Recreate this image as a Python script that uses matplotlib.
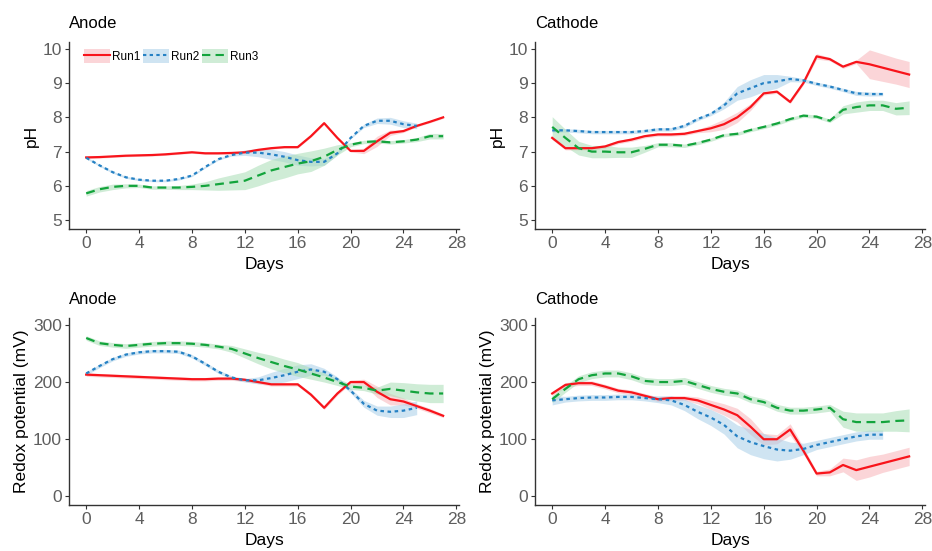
import numpy as np
import matplotlib
matplotlib.use('Agg')
import matplotlib.pyplot as plt
from matplotlib.patches import Patch
from matplotlib.lines import Line2D

plt.rcParams['font.family'] = ['Liberation Sans', 'DejaVu Sans']

days = list(range(28))
days_run2 = list(range(26))

# pH, anode
ph_an_run1 = [6.83, 6.84, 6.86, 6.88, 6.89, 6.90, 6.92, 6.95, 6.98, 6.95, 6.95, 6.96, 6.98, 7.05,
              7.10, 7.13, 7.13, 7.45, 7.83, 7.40, 7.02, 7.02, 7.30, 7.55, 7.60, 7.75, 7.87, 8.00]
ph_an_run1_se = [0.03] * 21 + [0.08, 0.15, 0.08, 0.04, 0.03, 0.03, 0.03]
ph_an_run2 = [6.82, 6.60, 6.40, 6.25, 6.18, 6.15, 6.15, 6.20, 6.30, 6.55, 6.78, 6.90, 6.97,
              6.97, 6.92, 6.85, 6.75, 6.70, 6.70, 6.95, 7.40, 7.75, 7.90, 7.90, 7.80, 7.75]
ph_an_run2_se = [0.03] * 12 + [0.08, 0.12, 0.15, 0.15, 0.15, 0.12, 0.10, 0.05, 0.03, 0.05,
                               0.08, 0.10, 0.10, 0.08]
ph_an_run3 = [5.78, 5.90, 5.97, 6.00, 6.00, 5.95, 5.95, 5.95, 5.97, 6.00, 6.05, 6.10, 6.15, 6.30,
              6.45, 6.55, 6.65, 6.72, 6.85, 7.05, 7.20, 7.28, 7.30, 7.27, 7.30, 7.35, 7.45, 7.45]
ph_an_run3_se = [0.08, 0.08, 0.08, 0.06, 0.05, 0.05, 0.05, 0.06, 0.08, 0.12, 0.18, 0.22, 0.26, 0.30,
                 0.32, 0.32, 0.30, 0.30, 0.25, 0.15, 0.06, 0.05, 0.05, 0.05, 0.05, 0.06, 0.08, 0.08]

# pH, cathode
ph_ca_run1 = [7.40, 7.10, 7.10, 7.10, 7.15, 7.28, 7.35, 7.45, 7.50, 7.50, 7.52, 7.60, 7.68, 7.80,
              8.00, 8.30, 8.70, 8.75, 8.45, 9.00, 9.78, 9.70, 9.48, 9.62, 9.55, 9.45, 9.35, 9.25]
ph_ca_run1_se = [0.05] * 12 + [0.10, 0.15, 0.15, 0.10, 0.05, 0.05, 0.05, 0.05, 0.08, 0.05,
                               0.05, 0.05, 0.42, 0.40, 0.38, 0.38]
ph_ca_run2 = [7.62, 7.62, 7.60, 7.57, 7.57, 7.57, 7.57, 7.60, 7.65, 7.65, 7.75, 7.95, 8.10,
              8.35, 8.70, 8.85, 9.00, 9.05, 9.12, 9.08, 8.98, 8.90, 8.80, 8.70, 8.68, 8.68]
ph_ca_run2_se = [0.05] * 13 + [0.10, 0.20, 0.25, 0.25, 0.20, 0.08, 0.05, 0.05, 0.05, 0.05,
                               0.06, 0.06, 0.05]
ph_ca_run3 = [7.72, 7.40, 7.10, 7.00, 7.00, 6.98, 6.98, 7.08, 7.20, 7.20, 7.17, 7.25, 7.35, 7.48,
              7.52, 7.63, 7.72, 7.82, 7.95, 8.05, 8.02, 7.90, 8.22, 8.30, 8.35, 8.35, 8.25, 8.28]
ph_ca_run3_se = [0.30, 0.25, 0.20, 0.18, 0.18, 0.15, 0.15, 0.10, 0.06, 0.06, 0.05, 0.05, 0.05, 0.05,
                 0.05, 0.05, 0.05, 0.05, 0.05, 0.05, 0.05, 0.05, 0.12, 0.15, 0.15, 0.15, 0.18, 0.20]

# redox potential, anode
rx_an_run1 = [213, 212, 211, 210, 209, 208, 207, 206, 205, 205, 206, 206, 204, 200,
              196, 196, 196, 178, 155, 180, 200, 200, 183, 170, 166, 158, 150, 141]
rx_an_run1_se = [3] * 21 + [5, 10, 10, 6, 4, 4, 3]
rx_an_run2 = [215, 228, 240, 248, 252, 254, 254, 253, 245, 232, 218, 208, 203,
              203, 207, 212, 218, 222, 218, 205, 185, 162, 150, 148, 150, 155]
rx_an_run2_se = [3] * 13 + [6, 10, 12, 12, 10, 6, 4, 4, 6, 8, 10, 12, 12]
rx_an_run3 = [277, 268, 265, 263, 265, 267, 268, 268, 267, 265, 262, 258, 250, 242,
              235, 228, 222, 215, 208, 200, 192, 190, 185, 188, 185, 182, 180, 180]
rx_an_run3_se = [4] * 11 + [6, 8, 10, 12, 12, 12, 10, 8, 6, 5, 5, 6, 12, 14, 15, 16, 16]

# redox potential, cathode
rx_ca_run1 = [180, 195, 198, 198, 192, 185, 182, 176, 170, 172, 172, 168, 160, 152,
              142, 122, 100, 100, 117, 80, 40, 42, 55, 46, 52, 58, 64, 70]
rx_ca_run1_se = [4] * 11 + [6, 8, 10, 12, 14, 10, 8, 10, 6, 4, 6, 12, 18, 18, 16, 16, 16]
rx_ca_run2 = [168, 170, 172, 173, 173, 174, 174, 172, 170, 168, 160, 148, 138,
              125, 105, 95, 88, 82, 80, 83, 90, 95, 100, 105, 108, 108]
rx_ca_run2_se = [8, 5, 5, 5, 5, 5, 5, 5, 6, 8, 10, 12, 14, 16, 20, 22, 22, 20, 15, 10,
                 8, 8, 8, 8, 8, 8]
rx_ca_run3 = [170, 188, 205, 212, 215, 215, 210, 202, 200, 200, 202, 195, 188, 183,
              180, 170, 165, 155, 150, 150, 152, 155, 135, 130, 130, 130, 132, 133]
rx_ca_run3_se = [6] * 21 + [6, 14, 16, 16, 16, 18, 20]

run_names = ['Run1', 'Run2', 'Run3']
colors = ['#f8141b', '#2581c4', '#13a43c']
fills = ['#f8b4b8', '#a9cfe8', '#a8ddb5']
styles = ['-', (0, (1.6, 1.6)), (0, (4, 2.5))]

panels = [
    ('Anode', 'pH', [ph_an_run1, ph_an_run2, ph_an_run3],
     [ph_an_run1_se, ph_an_run2_se, ph_an_run3_se]),
    ('Cathode', 'pH', [ph_ca_run1, ph_ca_run2, ph_ca_run3],
     [ph_ca_run1_se, ph_ca_run2_se, ph_ca_run3_se]),
    ('Anode', 'Redox potential (mV)', [rx_an_run1, rx_an_run2, rx_an_run3],
     [rx_an_run1_se, rx_an_run2_se, rx_an_run3_se]),
    ('Cathode', 'Redox potential (mV)', [rx_ca_run1, rx_ca_run2, rx_ca_run3],
     [rx_ca_run1_se, rx_ca_run2_se, rx_ca_run3_se]),
]

W, H = 932, 551
fig = plt.figure(figsize=(W / 100, H / 100), dpi=100)
boxes = [(69, 42, 459, 229), (535, 42, 925, 229), (69, 318, 459, 505), (535, 318, 925, 505)]

for (title, ylabel, series, ses), (x0, y0, x1, y1) in zip(panels, boxes):
    ax = fig.add_axes([x0 / W, 1 - y1 / H, (x1 - x0) / W, (y1 - y0) / H])
    for i in range(3):
        x = days_run2 if i == 1 else days
        y = np.array(series[i], dtype=float)
        s = np.array(ses[i], dtype=float)
        ax.fill_between(x, y - s, y + s, color=fills[i], alpha=0.55, lw=0)
    for i in range(3):
        x = days_run2 if i == 1 else days
        ax.plot(x, series[i], color=colors[i], lw=1.6, ls=styles[i])
    ax.set_xlim(-1.3, 28.2)
    ax.set_xticks(range(0, 29, 4))
    if ylabel == 'pH':
        ax.set_ylim(4.74, 10.2)
        ax.set_yticks(range(5, 11))
    else:
        ax.set_ylim(-15, 312)
        ax.set_yticks([0, 100, 200, 300])
    for sp in ['top', 'right']:
        ax.spines[sp].set_visible(False)
    for sp in ['left', 'bottom']:
        ax.spines[sp].set_color('#333333')
        ax.spines[sp].set_linewidth(1.0)
    ax.tick_params(labelsize=12.5, labelcolor='#5e5e5e', color='#333333', length=3, width=0.8, pad=2)
    ax.set_xlabel('Days', fontsize=12.5, labelpad=4)
    ax.set_ylabel(ylabel, fontsize=12.5, labelpad=3)
    ax.set_title(title, loc='left', fontsize=12, pad=10)

    if title == 'Anode' and ylabel == 'pH':
        handles = [(Patch(facecolor=fills[i], alpha=0.55, lw=0),
                    Line2D([], [], color=colors[i], lw=1.5, ls=styles[i])) for i in range(3)]
        ax.legend(handles, run_names, loc='upper left', ncol=3, frameon=False, fontsize=8.5,
                  handlelength=2.2, handleheight=1.5, handletextpad=0.2, columnspacing=0.2,
                  bbox_to_anchor=(0.02, 1.0), borderaxespad=0.2)

fig.savefig('out.png', dpi=100)
